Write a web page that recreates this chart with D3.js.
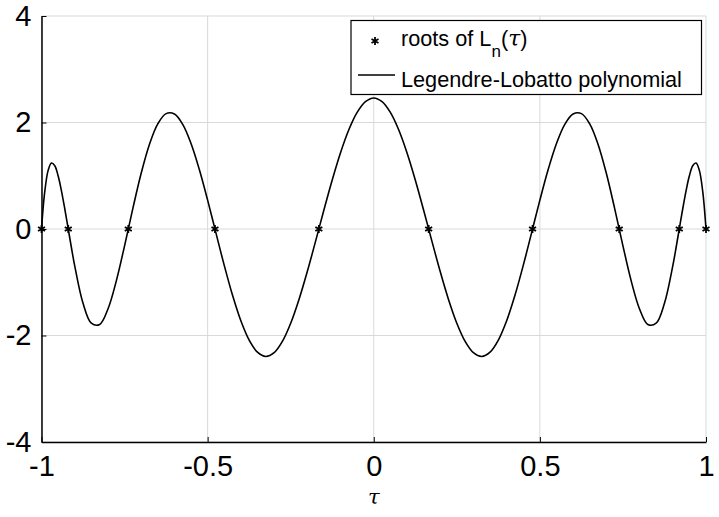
<!DOCTYPE html>
<html><head><meta charset="utf-8">
<script src="https://cdn.jsdelivr.net/npm/d3@7"></script>
<style>
html,body{margin:0;padding:0;background:#fff;}
svg{display:block;font-family:"Liberation Sans",Arial,Helvetica,sans-serif;}
</style></head>
<body>
<svg id="chart" width="719" height="517"></svg>
<script>
// ---- data ----
const tauRight = [0,0.025,0.05,0.075,0.1,0.125,0.15,0.175,0.2,0.225,0.25,0.275,0.3,0.325,0.35,0.375,0.4,0.425,0.45,0.475,0.5,0.525,0.55,0.575,0.6,0.625,0.65,0.675,0.7,0.725,0.75,0.775,0.8,0.825,0.85,0.875,0.9,0.91,0.92,0.93,0.94,0.95,0.96,0.97,0.98,0.99,0.995,1];
const polyRight = [2.4609,2.3920,2.1891,1.8633,1.4326,0.9209,0.3569,-0.2276,-0.7988,-1.3234,-1.7699,-2.1107,-2.3237,-2.3937,-2.3139,-2.0865,-1.7234,-1.2457,-0.6830,-0.0726,0.5428,1.1174,1.6057,1.9654,2.1600,2.1665,1.9744,1.5917,1.0463,0.3873,-0.3163,-0.9782,-1.5025,-1.7932,-1.7691,-1.3958,-0.6941,-0.3474,0.0171,0.3802,0.7175,0.9988,1.1873,1.2387,1.1008,0.7118,0.402,0];
const roots = [-1,-0.9195,-0.7388,-0.4779,-0.1653,0.1653,0.4779,0.7388,0.9195,1];
const xTicks = [-1,-0.5,0,0.5,1];
const xTickLabels = ["-1","-0.5","0","0.5","1"];
const yTicks = [-4,-2,0,2,4];
const yTickLabels = ["-4","-2","0","2","4"];

// full curve (the polynomial is even)
const curve = [];
for (let i = tauRight.length - 1; i > 0; i--) curve.push([-tauRight[i], polyRight[i]]);
for (let i = 0; i < tauRight.length; i++) curve.push([tauRight[i], polyRight[i]]);

// ---- layout ----
const svg = d3.select("#chart");
const L = 41.5, R = 706, T = 16, B = 442;
const x = d3.scaleLinear().domain([-1,1]).range([L,R]);
const y = d3.scaleLinear().domain([-4,4]).range([B,T]);

// grid
const grid = svg.append("g").attr("stroke","#d9d9d9").attr("stroke-width",1);
grid.selectAll(".gx").data(xTicks).join("line")
  .attr("x1",d=>x(d)).attr("x2",d=>x(d)).attr("y1",T).attr("y2",B);
grid.selectAll(".gy").data(yTicks).join("line")
  .attr("x1",L).attr("x2",R).attr("y1",d=>y(d)).attr("y2",d=>y(d));

// curve
svg.append("path").datum(curve)
  .attr("fill","none").attr("stroke","#000").attr("stroke-width",1.6)
  .attr("d", d3.line().x(d=>x(d[0])).y(d=>y(d[1])).curve(d3.curveCatmullRom.alpha(0.5)));

// root markers (asterisks)
const star = d3.symbol().type(d3.symbolAsterisk).size(45);
svg.append("g").selectAll("path").data(roots).join("path")
  .attr("transform",d=>`translate(${x(d)},${y(0)})`)
  .attr("d",star()).attr("fill","none").attr("stroke","#000").attr("stroke-width",1.8);

// axes
const xAxis = d3.axisBottom(x).tickValues(xTicks).tickFormat((d,i)=>xTickLabels[i]).tickSizeInner(-5).tickSizeOuter(0).tickPadding(13);
const yAxis = d3.axisLeft(y).tickValues(yTicks).tickFormat((d,i)=>yTickLabels[i]).tickSizeInner(-5).tickSizeOuter(0).tickPadding(10);
const gx = svg.append("g").attr("transform",`translate(0,${B})`).call(xAxis);
const gy = svg.append("g").attr("transform",`translate(${L},0)`).call(yAxis);
[gx,gy].forEach(g=>{
  g.select(".domain").attr("stroke","#000").attr("stroke-width",1.5);
  g.selectAll(".tick line").attr("stroke","#000").attr("stroke-width",1);
  g.selectAll(".tick text").attr("fill","#000").attr("font-size",29).attr("font-family","Liberation Sans, Arial, sans-serif");
});

// x label
svg.append("text").attr("x",x(0)).attr("y",504).attr("text-anchor","middle")
  .attr("font-family","DejaVu Serif, serif").attr("font-style","italic").attr("font-size",21).text("τ");

// legend
const lg = svg.append("g");
lg.append("rect").attr("x",351).attr("y",20.5).attr("width",350.5).attr("height",74)
  .attr("fill","#fff").attr("stroke","#000").attr("stroke-width",1.2);
lg.append("path").attr("transform","translate(375,41)").attr("d",star()).attr("fill","none").attr("stroke","#000").attr("stroke-width",1.8);
const t1 = lg.append("text").attr("x",401).attr("y",46).attr("font-size",21.7);
t1.append("tspan").text("roots of L");
t1.append("tspan").attr("font-size",17).attr("dy",11).text("n");
t1.append("tspan").attr("dy",-11).text("(");
t1.append("tspan").attr("font-family","DejaVu Serif, serif").attr("font-style","italic").text("τ");
t1.append("tspan").text(")");
lg.append("line").attr("x1",358).attr("x2",395).attr("y1",75).attr("y2",75).attr("stroke","#000").attr("stroke-width",1.5);
lg.append("text").attr("x",401).attr("y",86.5).attr("font-size",21.7).text("Legendre-Lobatto polynomial");
</script>
</body></html>
